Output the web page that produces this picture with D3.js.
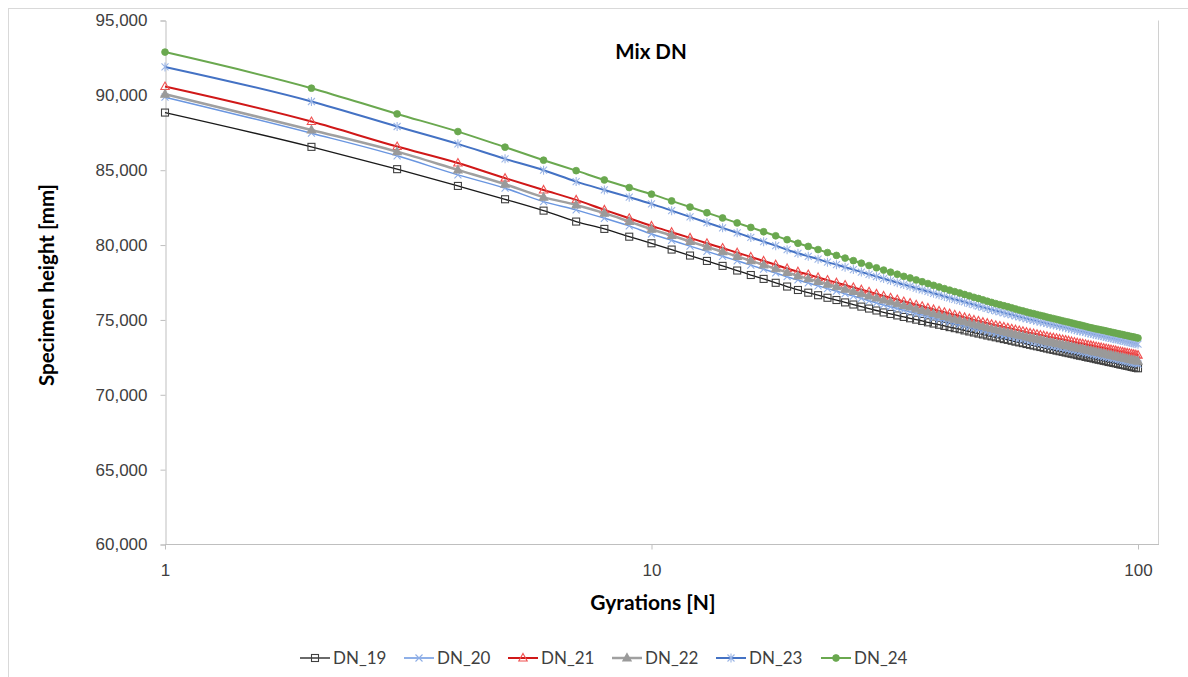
<!DOCTYPE html>
<html>
<head>
<meta charset="utf-8">
<script src="https://cdn.jsdelivr.net/npm/d3@7"></script>
<style>
  html, body { margin: 0; padding: 0; background: #fff; }
  svg { display: block; font-family: Lato, "Open Sans", sans-serif; }
</style>
</head>
<body>
<svg id="chart" width="1188" height="677"></svg>
<script>
// Gyration counts
const gyrations = [
  1,2,3,4,5,6,7,8,9,10,11,12,13,14,15,16,17,18,19,20,
  21,22,23,24,25,26,27,28,29,30,31,32,33,34,35,36,37,38,39,40,
  41,42,43,44,45,46,47,48,49,50,51,52,53,54,55,56,57,58,59,60,
  61,62,63,64,65,66,67,68,69,70,71,72,73,74,75,76,77,78,79,80,
  81,82,83,84,85,86,87,88,89,90,91,92,93,94,95,96,97,98,99,100
];

// Specimen heights per gyration
const dn19 = [
  88850,86560,85070,83950,83060,82300,81570,81080,80560,80120,
  79700,79300,78940,78610,78300,78000,77740,77480,77230,77000,
  76820,76650,76480,76330,76170,76030,75890,75760,75630,75500,
  75400,75300,75200,75110,75020,74930,74840,74760,74680,74600,
  74520,74450,74380,74300,74230,74160,74090,74030,73960,73900,
  73840,73780,73720,73670,73610,73550,73500,73450,73390,73340,
  73290,73240,73190,73140,73090,73040,73000,72950,72910,72870,
  72820,72780,72740,72700,72650,72610,72580,72530,72490,72460,
  72420,72380,72340,72310,72270,72240,72190,72170,72130,72100,
  72060,72020,72000,71960,71930,71900,71860,71830,71800,71770
];
const dn20 = [
  89880,87470,85960,84690,83800,82900,82350,81790,81280,80740,
  80320,79930,79580,79250,78950,78660,78390,78140,77890,77670,
  77470,77280,77090,76920,76750,76590,76440,76280,76140,76000,
  75880,75760,75640,75540,75430,75330,75230,75120,75030,74940,
  74850,74770,74690,74600,74520,74440,74370,74290,74220,74150,
  74080,74020,73960,73910,73850,73790,73730,73680,73620,73570,
  73520,73470,73430,73380,73330,73280,73240,73190,73150,73110,
  73070,73030,72990,72950,72910,72860,72830,72790,72750,72720,
  72680,72640,72610,72570,72540,72500,72460,72430,72400,72370,
  72330,72300,72270,72240,72200,72170,72140,72110,72080,72050
];
const dn21 = [
  90590,88250,86580,85480,84470,83680,83020,82350,81790,81280,
  80860,80480,80120,79800,79490,79210,78940,78690,78440,78220,
  78030,77840,77660,77490,77330,77170,77020,76880,76740,76600,
  76480,76360,76230,76130,76010,75910,75800,75700,75600,75510,
  75420,75340,75250,75170,75090,75000,74930,74850,74780,74710,
  74640,74590,74530,74470,74410,74350,74290,74240,74180,74130,
  74090,74040,73990,73950,73900,73850,73810,73770,73730,73690,
  73650,73610,73560,73520,73480,73440,73410,73370,73330,73300,
  73260,73220,73190,73160,73120,73090,73050,73020,72990,72960,
  72920,72890,72860,72830,72800,72770,72740,72710,72680,72650
];
const dn22 = [
  90080,87690,86240,85020,84070,83200,82680,82130,81570,81060,
  80640,80240,79880,79550,79240,78950,78680,78420,78170,77940,
  77750,77570,77380,77220,77050,76900,76750,76600,76470,76330,
  76210,76080,75960,75860,75740,75640,75530,75430,75330,75230,
  75140,75050,74970,74880,74800,74710,74640,74560,74480,74410,
  74340,74280,74220,74160,74100,74040,73980,73930,73870,73820,
  73770,73720,73670,73620,73570,73520,73480,73430,73390,73350,
  73300,73260,73220,73180,73130,73090,73060,73010,72970,72940,
  72900,72860,72820,72790,72750,72720,72670,72650,72610,72580,
  72540,72500,72480,72440,72410,72380,72340,72310,72280,72250
];
const dn23 = [
  91900,89590,87920,86760,85760,85000,84240,83680,83200,82750,
  82300,81880,81500,81150,80820,80510,80230,79960,79690,79450,
  79250,79060,78860,78690,78520,78360,78200,78050,77900,77760,
  77630,77490,77360,77250,77120,77010,76900,76780,76680,76570,
  76470,76380,76290,76200,76110,76020,75930,75850,75770,75690,
  75610,75550,75480,75410,75350,75280,75210,75150,75090,75030,
  74980,74930,74870,74820,74770,74720,74670,74620,74570,74530,
  74480,74440,74390,74350,74300,74260,74220,74180,74130,74090,
  74050,74010,73970,73940,73900,73860,73820,73790,73750,73720,
  73680,73650,73620,73580,73540,73510,73480,73450,73410,73380
];
const dn24 = [
  92890,90480,88760,87580,86540,85670,84970,84350,83840,83400,
  82950,82540,82160,81810,81480,81180,80890,80620,80360,80120,
  79910,79700,79500,79310,79130,78960,78790,78630,78480,78330,
  78190,78050,77910,77800,77670,77550,77430,77310,77200,77090,
  76990,76890,76800,76700,76610,76510,76430,76340,76250,76170,
  76090,76020,75950,75880,75810,75730,75660,75600,75530,75470,
  75420,75360,75300,75250,75190,75140,75090,75040,74990,74940,
  74890,74850,74800,74750,74700,74660,74620,74570,74520,74480,
  74440,74400,74370,74330,74300,74260,74220,74190,74150,74120,
  74080,74050,74020,73980,73950,73920,73880,73860,73820,73790
];

const seriesNames = ["DN_19", "DN_20", "DN_21", "DN_22", "DN_23", "DN_24"];
const yTicks = [60000, 65000, 70000, 75000, 80000, 85000, 90000, 95000];
const xTicks = [1, 10, 100];

// Visual style of each series
const styles = {
  DN_19: { line: "#1a1a1a", width: 1.3, marker: "square",   mStroke: "#404040", mFill: "none" },
  DN_20: { line: "#6a96e0", width: 1.5, marker: "x",        mStroke: "#8eaee6", mFill: "none" },
  DN_21: { line: "#d01818", width: 2.0, marker: "triangle", mStroke: "#f05050", mFill: "none" },
  DN_22: { line: "#a0a0a0", width: 2.5, marker: "triangle", mStroke: "#9a9a9a", mFill: "#9a9a9a" },
  DN_23: { line: "#4472c4", width: 2.0, marker: "star",     mStroke: "#9cb6e6", mFill: "none" },
  DN_24: { line: "#6aa84f", width: 2.0, marker: "circle",   mStroke: "#6aa84f", mFill: "#6aa84f" }
};

const values = { DN_19: dn19, DN_20: dn20, DN_21: dn21, DN_22: dn22, DN_23: dn23, DN_24: dn24 };

const svg = d3.select("#chart");
const plotLeft = 165, plotEnd = 1138, plotRight = 1158, plotTop = 20.5, plotBottom = 544.5;

const x = d3.scaleLog().domain([1, 100]).range([plotLeft, plotEnd]);
const y = d3.scaleLinear().domain([60000, 95000]).range([plotBottom, plotTop]);

// Chart frame
svg.append("rect")
  .attr("x", 8.5).attr("y", 8.5).attr("width", 1250).attr("height", 720)
  .attr("fill", "none").attr("stroke", "#d9d9d9");

// Right edge of the plot area
svg.append("line")
  .attr("x1", plotRight + 0.5).attr("x2", plotRight + 0.5)
  .attr("y1", plotTop).attr("y2", plotBottom)
  .attr("stroke", "#d0d0d0");

// Y axis
const yAxis = svg.append("g")
  .attr("transform", `translate(${plotLeft + 0.5},0)`)
  .call(d3.axisLeft(y).tickValues(yTicks).tickFormat(d3.format(",")).tickSize(5).tickPadding(13));
yAxis.select(".domain").attr("stroke", "#bfbfbf");
yAxis.selectAll(".tick line").attr("stroke", "#bfbfbf");
yAxis.selectAll("text").attr("fill", "#404040").style("font-size", "17px");

// X axis, spanning the full plot width
const xAxis = svg.append("g")
  .attr("transform", `translate(0,${plotBottom})`)
  .call(d3.axisBottom(x).tickValues(xTicks).tickFormat(d3.format("d")).tickSize(5).tickPadding(14));
xAxis.select(".domain").remove();
xAxis.append("line").attr("x1", plotLeft).attr("x2", plotRight + 1).attr("y1", 0).attr("y2", 0).attr("stroke", "#bfbfbf");
xAxis.selectAll(".tick line").attr("stroke", "#bfbfbf");
xAxis.selectAll("text").attr("fill", "#404040").style("font-size", "17px");

// Titles
svg.append("text").attr("x", 651).attr("y", 59).attr("text-anchor", "middle")
  .style("font-size", "20.5px").style("font-weight", "bold").attr("fill", "#000").text("Mix DN");
svg.append("text").attr("x", 653).attr("y", 610).attr("text-anchor", "middle")
  .style("font-size", "21px").style("font-weight", "bold").attr("fill", "#000").text("Gyrations [N]");
svg.append("text").attr("transform", "translate(54,285) rotate(-90)").attr("text-anchor", "middle")
  .style("font-size", "20.5px").style("font-weight", "bold").attr("fill", "#000").text("Specimen height [mm]");

// Marker drawing
function drawMarker(g, type, st) {
  if (type === "square") {
    g.append("rect").attr("x", -3.5).attr("y", -3.5).attr("width", 7).attr("height", 7)
      .attr("fill", "#fff").attr("fill-opacity", 0).attr("stroke", st.mStroke).attr("stroke-width", 1.1);
  } else if (type === "x") {
    g.append("path").attr("d", "M-3.5,-3.5L3.5,3.5M-3.5,3.5L3.5,-3.5")
      .attr("stroke", st.mStroke).attr("stroke-width", 1.1).attr("fill", "none");
  } else if (type === "triangle") {
    g.append("path").attr("d", "M0,-4.5L4.2,3L-4.2,3Z")
      .attr("fill", st.mFill).attr("stroke", st.mStroke).attr("stroke-width", 1.1);
  } else if (type === "star") {
    g.append("path").attr("d", "M-3.5,-3.5L3.5,3.5M-3.5,3.5L3.5,-3.5M0,-4.5L0,4.5")
      .attr("stroke", st.mStroke).attr("stroke-width", 1.1).attr("fill", "none");
  } else if (type === "circle") {
    g.append("circle").attr("r", 3.4).attr("fill", st.mFill).attr("stroke", st.mStroke).attr("stroke-width", 0.8);
  }
}

const line = d3.line()
  .x(d => x(d[0]))
  .y(d => y(d[1]))
  .curve(d3.curveMonotoneX);

seriesNames.forEach(name => {
  const st = styles[name];
  const pts = gyrations.map((n, i) => [n, values[name][i]]);
  const g = svg.append("g").attr("class", "series");
  g.append("path").datum(pts).attr("d", line)
    .attr("fill", "none").attr("stroke", st.line).attr("stroke-width", st.width);
  g.selectAll("g.m").data(pts).join("g").attr("class", "m")
    .attr("transform", d => `translate(${x(d[0])},${y(d[1])})`)
    .each(function () { drawMarker(d3.select(this), st.marker, st); });
});

// Legend
const legendX = [300, 404, 508, 612, 716, 821];
const legendY = 658;
seriesNames.forEach((name, i) => {
  const st = styles[name];
  const g = svg.append("g").attr("transform", `translate(${legendX[i]},${legendY})`);
  g.append("line").attr("x1", 0).attr("x2", 30).attr("y1", 0).attr("y2", 0)
    .attr("stroke", st.line).attr("stroke-width", st.width);
  drawMarker(g.append("g").attr("transform", "translate(15,0)"), st.marker, st);
  g.append("text").attr("x", 33).attr("y", 0).attr("dy", "0.35em")
    .style("font-size", "17px").attr("fill", "#404040").text(name);
});
</script>
</body>
</html>
